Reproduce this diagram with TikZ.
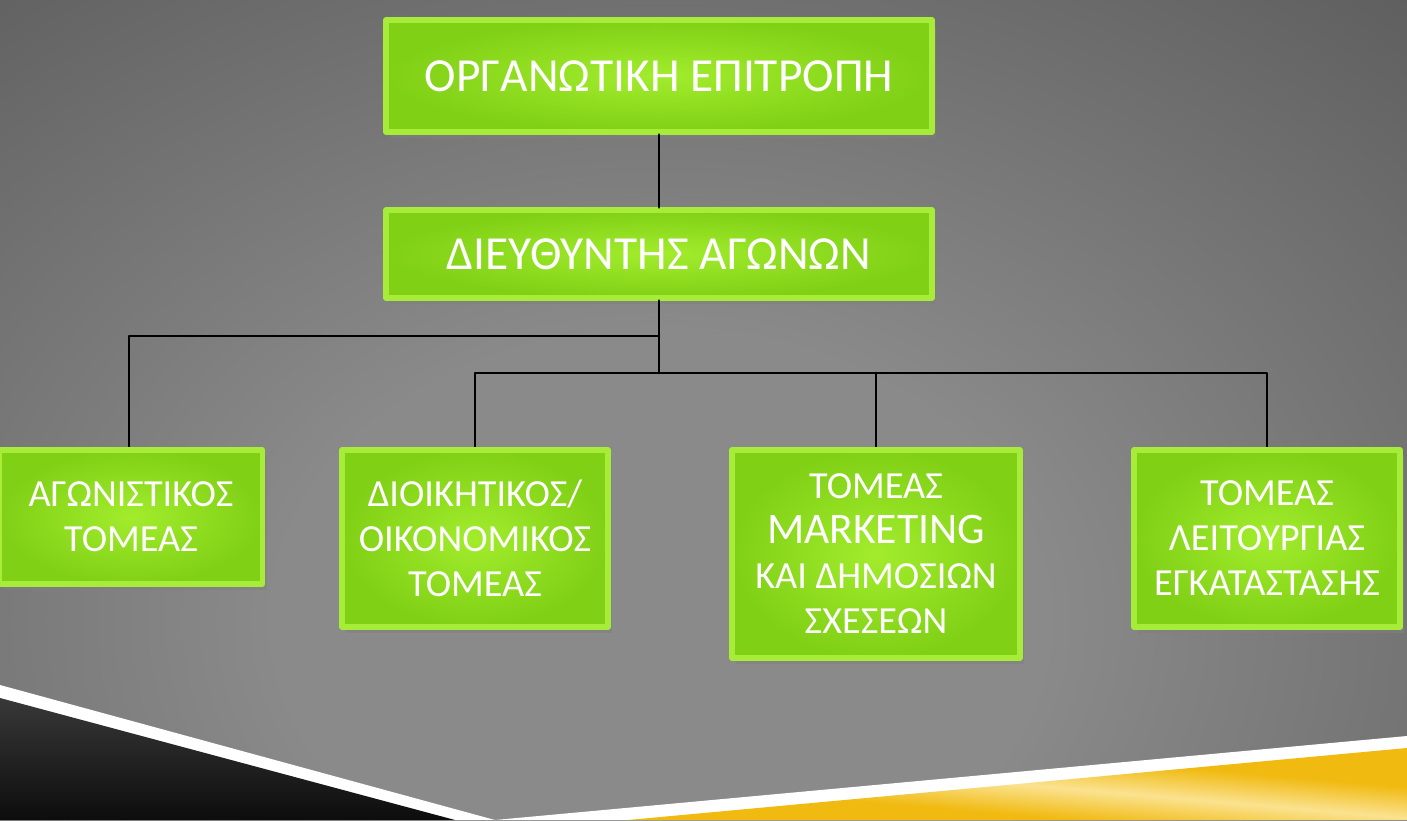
\documentclass[tikz,border=0pt]{standalone}
\usepackage{fontspec}
\setmainfont{Carlito}
\usetikzlibrary{shadows}
\definecolor{bgin}{HTML}{8A8A8A}
\definecolor{bgmid}{HTML}{4C4C4C}
\definecolor{bgout}{HTML}{303030}
\definecolor{boxgreen}{HTML}{80D016}
\definecolor{boxglow}{HTML}{A2EC2C}
\definecolor{boxedge}{HTML}{A6EC38}
\definecolor{stripgold}{HTML}{F0BA10}
\definecolor{stripcream}{HTML}{FBE290}
\pgfdeclareradialshading{bgshade}{\pgfpoint{0bp}{0bp}}{color(0bp)=(bgin); color(8bp)=(bgin); color(30bp)=(bgmid); color(46bp)=(bgout); color(50bp)=(bgout)}
\pgfdeclareverticalshading{goldshade}{100bp}{color(0bp)=(stripgold); color(38bp)=(stripgold); color(50bp)=(stripcream); color(62bp)=(stripgold); color(100bp)=(stripgold)}
\begin{document}
\begin{tikzpicture}[line cap=round, line join=round,
    gbox/.style={inner color=boxglow, outer color=boxgreen, draw=boxedge, line width=1.5pt,
      text=white, align=center, inner sep=2pt,
      drop shadow={shadow xshift=1.2pt, shadow yshift=-1.8pt, opacity=0.55}},
    topfont/.style={font=\fontsize{13.5}{15}\selectfont},
    subfont/.style={font=\fontsize{10.9}{12.8}\selectfont},
    link/.style={line width=0.8pt, black}]
  \useasboundingbox (0,0) rectangle (14.07,8.2);
  % --- background ---
  \begin{scope}
    \clip (0,0) rectangle (14.07,8.2);
    \shade[shading=bgshade] (-5.4,-7) rectangle (18.6,11);
    % bottom strips
    \fill[white] (0,1.35) -- (4.95,0) -- (14.07,0.84) -- (14.07,0) -- (0,0) -- cycle;
    \shade[top color=black!78, bottom color=black!95] (0,1.22) -- (4.55,0) -- (0,0) -- cycle;
    \shade[shading=goldshade, shading angle=-5] (6.28,0) -- (14.07,0.72) -- (14.07,0) -- cycle;
  \end{scope}
  % --- top of the chart ---
  \node[gbox, topfont, minimum width=5.46cm, minimum height=1.12cm] (epitropi) at (6.59,7.44) {ΟΡΓΑΝΩΤΙΚΗ ΕΠΙΤΡΟΠΗ};
  \node[gbox, topfont, minimum width=5.46cm, minimum height=0.88cm] (diefthyntis) at (6.59,5.66) {ΔΙΕΥΘΥΝΤΗΣ ΑΓΩΝΩΝ};
  % junctions
  \coordinate (jA) at (6.59,4.84);
  \coordinate (jB) at (6.59,4.47);
  % --- lines (under the boxes) ---
  \draw[link] (epitropi.south) -- (diefthyntis.north);
  \draw[link] (diefthyntis.south) -- (jB);
  \draw[link] (jA) -| (1.29,3.70);
  \draw[link] (4.75,3.70) |- (jB) -| (12.67,3.70);
  \draw[link] (8.76,3.70) -- (8.76,4.47);
  % --- sectors ---
  \node[gbox, subfont, minimum width=2.63cm, minimum height=1.34cm] (agonistikos) at (1.31,3.03) {ΑΓΩΝΙΣΤΙΚΟΣ\\ΤΟΜΕΑΣ};
  \node[gbox, subfont, minimum width=2.66cm, minimum height=1.77cm] (dioikitikos) at (4.75,2.815) {ΔΙΟΙΚΗΤΙΚΟΣ/\\ΟΙΚΟΝΟΜΙΚΟΣ\\ΤΟΜΕΑΣ};
  \node[gbox, subfont, minimum width=2.88cm, minimum height=2.08cm] (marketing) at (8.76,2.66) {ΤΟΜΕΑΣ\\{\fontsize{12.4}{12.8}\selectfont MARKETING}\\ΚΑΙ ΔΗΜΟΣΙΩΝ\\ΣΧΕΣΕΩΝ};
  \node[gbox, subfont, minimum width=2.66cm, minimum height=1.77cm] (leitourgia) at (12.67,2.815) {ΤΟΜΕΑΣ\\ΛΕΙΤΟΥΡΓΙΑΣ\\ΕΓΚΑΤΑΣΤΑΣΗΣ};
\end{tikzpicture}
\end{document}
